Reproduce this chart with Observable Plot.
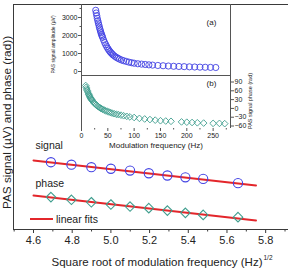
<!DOCTYPE html>
<html><head><meta charset="utf-8">
<script src="https://cdn.jsdelivr.net/npm/d3@7"></script>
<script src="https://cdn.jsdelivr.net/npm/@observablehq/plot@0.6"></script>
<style>
html,body{margin:0;padding:0;background:#fff;}
#chart{position:relative;width:288px;height:269px;font-family:"Liberation Sans",Arial,sans-serif;color:#222;}
#chart svg{position:absolute;left:0;top:0;overflow:visible;}
#legend{position:absolute;left:30px;top:212px;display:flex;align-items:center;font-size:10.5px;white-space:nowrap;}
#legend svg{position:static;}
</style></head><body><div id="chart"><div id="legend"><svg width="26" height="14"><line x1="0" x2="23" y1="7" y2="7" stroke="#e3262b" stroke-width="2"/></svg><span>linear fits</span></div></div>
<script>
// ---- main panel data (sqrt of modulation frequency, arbitrary vertical units) ----
const sqrtFreq   = [4.690, 4.796, 4.899, 5.000, 5.099, 5.196, 5.292, 5.385, 5.477, 5.657];
const signalVals = [29.9, 28.8, 27.7, 27.0, 26.2, 25.0, 24.0, 23.2, 22.5, 20.6];
const phaseVals  = [14.4, 13.2, 12.1, 11.1, 10.2, 9.5, 8.4, 7.4, 6.5, 5.5];
const fitX       = [4.6, 5.75];
const signalFit  = [30.7, 19.6];
const phaseFit   = [15.1, 4.0];
const mainTicks  = [4.6, 4.8, 5.0, 5.2, 5.4, 5.6, 5.8];
const mainMinor  = [4.5, 4.7, 4.9, 5.1, 5.3, 5.5, 5.7, 5.9];

// ---- inset (a): amplitude vs modulation frequency ----
const ampFreq = [27,28,29,30,31,32,33,34,35,36,37,38,39,40,42,44,46,48,50,52,54,56,58,60,63,66,69,72,76,80,85,90,95,100,107,114,121,128,135,145,155,165,175,185,195,205,215,225,235,245,255];
const ampVals = [3400,3250,3100,2950,2820,2700,2580,2460,2350,2250,2150,2060,1980,1900,1750,1610,1490,1380,1280,1190,1110,1040,980,920,850,790,740,690,640,600,560,520,490,460,430,410,390,370,355,335,320,305,290,280,270,260,250,242,235,228,222];
const ampTicks = [0, 1000, 2000, 3000];
const ampMinor = [500, 1500, 2500, 3500];

// ---- inset (b): phase vs modulation frequency ----
const phaseFreq = [8,9,10,11,12,13,14,15,16,17,18,19,20,22,24,26,28,30,32,34,36,38,40,43,46,49,52,55,58,62,66,70,75,80,86,92,100,110,120,130,140,150,160,170,190,200,210,220,232,250,262,272];
const phaseDeg  = [78,72,66,61,56,51,47,43,39,36,33,30,28,23,18,15,12,9,6,3,1,-1,-3,-6,-8,-10,-12,-14,-16,-18,-20,-21,-23,-25,-27,-29,-31,-34,-36,-38,-40,-42,-43,-44,-46,-47,-48,-49,-50,-51,-51,-52];
const phaseTicks = [-60, -30, 0, 30, 60, 90];
const freqTicks  = [0, 50, 100, 150, 200, 250];
const freqMinor  = [25, 75, 125, 175, 225, 275];

const FONT = '"Liberation Sans", Arial, sans-serif';
const BLUE = "#4343e3", TEAL = "#3f9e8e", RED = "#e3262b", AX = "#3a3a3a", AXI = "#555";
const style = {fontFamily: FONT, background: "transparent", color: "#222", overflow: "visible"};
const xMain = [4.4966, 5.918];
const T = (s, o) => Plot.text([s], {textAnchor: "middle", lineAnchor: "middle", ...o});

const main = Plot.plot({
  width: 288, height: 269,
  marginLeft: 13, marginRight: 0, marginTop: 4, marginBottom: 40,
  style,
  x: {domain: xMain},
  y: {domain: [0, 100], axis: null},
  marks: [
    Plot.ruleY([0, 100], {stroke: AX}),
    Plot.ruleX([xMain[0]], {stroke: AX}),
    Plot.axisX({ticks: mainTicks, tickSize: 4, tickPadding: 3, fontSize: 11, label: null, tickFormat: d3.format(".1f"), stroke: AX}),
    Plot.axisX({ticks: mainMinor, tickSize: 2.5, label: null, tickFormat: () => "", stroke: AX}),
    Plot.line(fitX, {x: fitX, y: signalFit, stroke: RED, strokeWidth: 2}),
    Plot.line(fitX, {x: fitX, y: phaseFit, stroke: RED, strokeWidth: 2}),
    Plot.dot(sqrtFreq, {x: sqrtFreq, y: signalVals, r: 4.6, stroke: BLUE, fill: "none", strokeWidth: 1.1}),
    Plot.dot(sqrtFreq, {x: sqrtFreq, y: phaseVals, r: 4.3, symbol: "diamond2", stroke: TEAL, fill: "none", strokeWidth: 1.1}),
    T("signal", {frameAnchor: "top-left", dx: 22, dy: 141, textAnchor: "start", fontSize: 10.5}),
    T("phase", {frameAnchor: "top-left", dx: 22, dy: 179, textAnchor: "start", fontSize: 10.5}),
    T("PAS signal (\u00b5V) and phase (rad))", {frameAnchor: "left", rotate: -90, dx: -6.5, dy: 5.5, fontSize: 11.8}),
    T("Square root of modulation frequency (Hz)", {frameAnchor: "bottom", textAnchor: "end", dx: 111.5, dy: 33, fontSize: 11.5}),
    T("1/2", {frameAnchor: "bottom", textAnchor: "start", dx: 112.5, dy: 28, fontSize: 6.5})
  ]
});

const insetA = Plot.plot({
  width: 288, height: 75,
  marginLeft: 81, marginRight: 58, marginTop: 4, marginBottom: 0,
  style,
  x: {domain: [0, 283], axis: null},
  y: {domain: [-222, 3722], axis: null},
  marks: [
    Plot.ruleX([0, 283], {stroke: AXI}),
    Plot.ruleY([-222], {stroke: AXI}),
    Plot.axisY({ticks: ampTicks, tickSize: 3, tickPadding: 1, fontSize: 7, label: null, tickFormat: d3.format("d"), stroke: AXI}),
    Plot.axisY({ticks: ampMinor, tickSize: 1.5, label: null, tickFormat: () => "", stroke: AXI}),
    Plot.dot(ampFreq, {x: ampFreq, y: ampVals, r: 3.1, stroke: BLUE, fill: "none", strokeWidth: 0.9}),
    T("(a)", {frameAnchor: "top-right", dx: -19, dy: 18, fontSize: 8}),
    T("PAS signal amplitude (\u00b5V)", {frameAnchor: "left", rotate: -90, dx: -28, dy: 4.5, fontSize: 5})
  ]
});

const insetB = Plot.plot({
  width: 288, height: 150,
  marginLeft: 81, marginRight: 58, marginTop: 75, marginBottom: 22,
  style,
  x: {domain: [0, 283]},
  y: {domain: [-68.5, 112.2], axis: null},
  marks: [
    Plot.ruleX([0, 283], {stroke: AXI}),
    Plot.axisY({anchor: "right", ticks: phaseTicks, tickSize: 3, tickPadding: 1, fontSize: 7, label: null, tickFormat: d3.format("d"), stroke: AXI}),
    Plot.axisX({ticks: freqTicks, tickSize: 3, tickPadding: 1.5, fontSize: 7, label: null, stroke: AXI}),
    Plot.axisX({ticks: freqMinor, tickSize: 1.5, label: null, tickFormat: () => "", stroke: AXI}),
    Plot.dot(phaseFreq, {x: phaseFreq, y: phaseDeg, r: 3, symbol: "diamond2", stroke: TEAL, fill: "none", strokeWidth: 0.9}),
    T("(b)", {frameAnchor: "top-right", dx: -19, dy: 8, fontSize: 8}),
    T("Modulation frequency (Hz)", {frameAnchor: "bottom", dy: 17, fontSize: 8}),
    T("PAS signal phase (rad)", {frameAnchor: "right", rotate: -90, dx: 20, dy: -1, fontSize: 5.5})
  ]
});

const chart = document.getElementById("chart");
chart.insertBefore(main, chart.firstChild);
chart.appendChild(insetA);
chart.appendChild(insetB);
</script></body></html>
